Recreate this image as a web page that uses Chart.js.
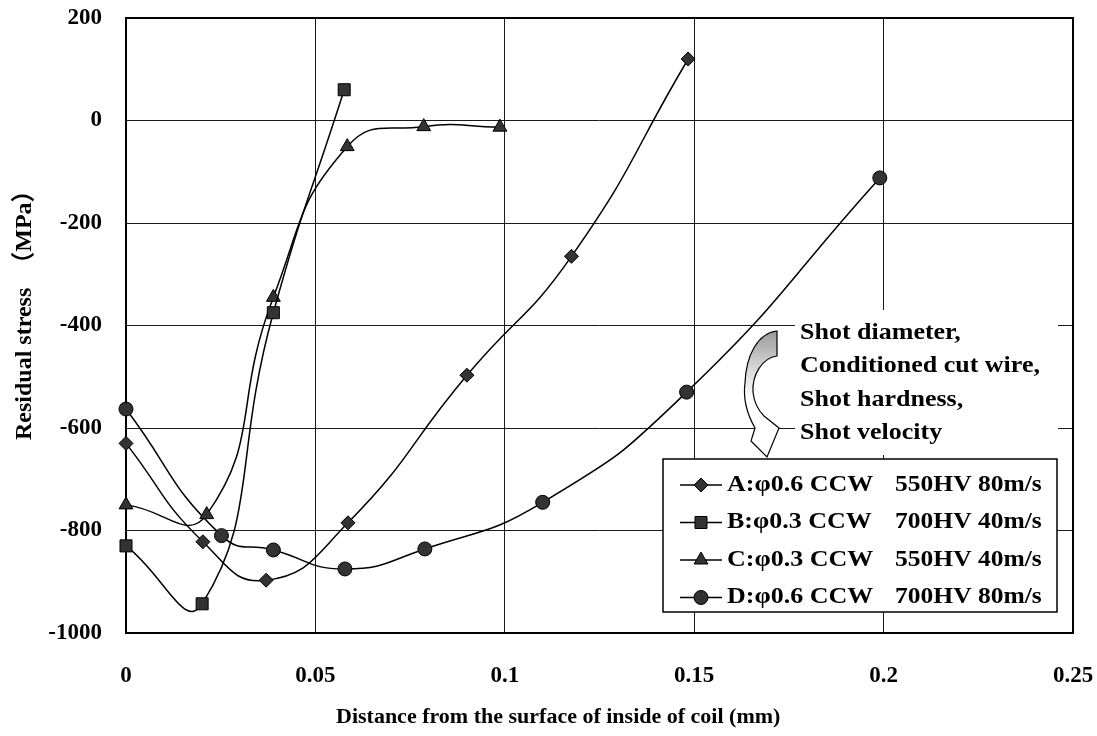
<!DOCTYPE html>
<html>
<head>
<meta charset="utf-8">
<title>Residual stress profiles</title>
<script src="https://cdn.jsdelivr.net/npm/chart.js@4.4.0/dist/chart.umd.min.js"></script>
<style>
  html, body { margin: 0; padding: 0; background: #fff; }
  #wrap { width: 1097px; height: 736px; position: relative; }
</style>
</head>
<body>
<div id="wrap"><canvas id="stressChart"></canvas></div>
<script>
// depth in mm, residual stress in MPa
const depthA = [0, 0.0203, 0.037, 0.0586, 0.09, 0.1176, 0.1484];
const stressA = [-630, -822, -897, -785, -497, -265, 120];
const depthB = [0, 0.0201, 0.0389, 0.0576];
const stressB = [-830, -943, -375, 60];
const depthC = [0, 0.0213, 0.0389, 0.0584, 0.0786, 0.0987];
const stressC = [-750, -769, -345, -51, -12, -13];
const depthD = [0, 0.0252, 0.0389, 0.0578, 0.0789, 0.11, 0.148, 0.199];
const stressD = [-563, -810, -838, -875, -836, -745, -530, -112];

const seriesNames = ['A:φ0.6 CCW', 'B:φ0.3 CCW', 'C:φ0.3 CCW', 'D:φ0.6 CCW'];
const seriesConditions = ['550HV 80m/s', '700HV 40m/s', '550HV 40m/s', '700HV 80m/s'];

const depthTicks = [0, 0.05, 0.1, 0.15, 0.2, 0.25];
const stressTicks = [-1000, -800, -600, -400, -200, 0, 200];

const noteLines = ['Shot diameter,', 'Conditioned cut wire,', 'Shot hardness,', 'Shot velocity'];
const xTitle = 'Distance from the surface of inside of coil (mm)';
const yTitle = 'Residual stress\u3000（MPa）';

const SERIF = "'Liberation Serif', 'Times New Roman', 'Noto Sans CJK JP', serif";

const markers = [
  { pointStyle: 'rectRot', radius: 7 },
  { pointStyle: 'rect', radius: 8.5 },
  { pointStyle: 'triangle', radius: 8 },
  { pointStyle: 'circle', radius: 7 }
];

function toPoints(xs, ys) {
  return xs.map((x, i) => ({ x: x, y: ys[i] }));
}

const seriesData = [
  toPoints(depthA, stressA),
  toPoints(depthB, stressB),
  toPoints(depthC, stressC),
  toPoints(depthD, stressD)
];

const datasets = seriesData.map((pts, i) => ({
  label: seriesNames[i] + ' ' + seriesConditions[i],
  data: pts,
  borderColor: '#000',
  borderWidth: 1.5,
  backgroundColor: '#333',
  pointStyle: markers[i].pointStyle,
  pointRadius: markers[i].radius,
  pointBackgroundColor: '#333',
  pointBorderColor: '#000',
  pointBorderWidth: 1,
  tension: 0.5,
  fill: false,
  clip: false
}));

// text widened sideways, the printed lettering runs broad
function wideText(ctx, text, x, y, sx, align) {
  ctx.save();
  ctx.translate(x, y);
  ctx.scale(sx, 1);
  ctx.textAlign = align || 'left';
  ctx.fillText(text, 0, 0);
  ctx.restore();
}

function drawMarker(ctx, style, radius, x, y) {
  ctx.save();
  ctx.fillStyle = '#333';
  ctx.strokeStyle = '#000';
  ctx.lineWidth = 1;
  Chart.helpers.drawPoint(ctx, { pointStyle: style, radius: radius, rotation: 0, borderWidth: 1 }, x, y);
  ctx.restore();
}

const framePlugin = {
  id: 'frame',
  beforeDatasetsDraw(chart) {
    const { ctx, chartArea: a } = chart;
    ctx.save();
    ctx.strokeStyle = '#000';
    ctx.lineWidth = 2;
    ctx.strokeRect(a.left, a.top, a.right - a.left, a.bottom - a.top);
    ctx.restore();
  }
};

const overlayPlugin = {
  id: 'overlay',
  afterDraw(chart) {
    const ctx = chart.ctx;
    ctx.save();

    // axis titles
    ctx.fillStyle = '#000';
    ctx.textBaseline = 'middle';
    ctx.font = 'bold 20px ' + SERIF;
    wideText(ctx, xTitle, 336, 718, 1.1, 'left');

    ctx.save();
    ctx.translate(25, 440);
    ctx.rotate(-Math.PI / 2);
    ctx.font = 'bold 24px ' + SERIF;
    ctx.textAlign = 'left';
    ctx.fillText(yTitle, 0, 0);
    ctx.restore();

    // note block with curved arrow
    ctx.fillStyle = '#fff';
    ctx.fillRect(795, 310, 263, 145);
    ctx.fillStyle = '#000';
    ctx.font = 'bold 23px ' + SERIF;
    noteLines.forEach((t, i) => wideText(ctx, t, 800, 333 + i * 33.3, 1.13, 'left'));

    const grad = ctx.createLinearGradient(0, 331, 0, 400);
    grad.addColorStop(0, '#9a9a9a');
    grad.addColorStop(0.55, '#d8d8d8');
    grad.addColorStop(1, '#fff');
    ctx.beginPath();
    ctx.moveTo(777, 331);
    ctx.lineTo(777, 356);
    ctx.bezierCurveTo(762, 358, 752, 375, 753, 392);
    ctx.bezierCurveTo(754, 402, 758, 410, 764, 416);
    ctx.lineTo(779, 428);
    ctx.lineTo(767, 457);
    ctx.lineTo(751, 441);
    ctx.lineTo(755, 428);
    ctx.bezierCurveTo(747, 414, 743, 398, 745, 383);
    ctx.bezierCurveTo(746, 355, 758, 333, 777, 331);
    ctx.closePath();
    ctx.fillStyle = grad;
    ctx.fill();
    ctx.strokeStyle = '#000';
    ctx.lineWidth = 1.2;
    ctx.stroke();

    // legend
    ctx.fillStyle = '#fff';
    ctx.fillRect(663, 459, 394, 153);
    ctx.strokeStyle = '#000';
    ctx.lineWidth = 1.5;
    ctx.strokeRect(663, 459, 394, 153);
    ctx.font = 'bold 23px ' + SERIF;
    seriesNames.forEach((name, i) => {
      const y = 485 + i * 37.5;
      ctx.beginPath();
      ctx.moveTo(680, y);
      ctx.lineTo(722, y);
      ctx.strokeStyle = '#000';
      ctx.lineWidth = 1.5;
      ctx.stroke();
      drawMarker(ctx, markers[i].pointStyle, markers[i].radius, 701, y);
      ctx.fillStyle = '#000';
      wideText(ctx, name, 727, y, 1.13, 'left');
      wideText(ctx, seriesConditions[i], 895, y, 1.11, 'left');
    });

    ctx.restore();
  }
};

const tickFont = { family: SERIF, size: 23, weight: 'bold' };

new Chart(document.getElementById('stressChart'), {
  type: 'line',
  data: { datasets: datasets },
  options: {
    responsive: true,
    maintainAspectRatio: false,
    animation: false,
    layout: { padding: { top: 18, right: 24, bottom: 0, left: 0 } },
    plugins: { legend: { display: false }, tooltip: { enabled: false } },
    scales: {
      x: {
        type: 'linear',
        min: 0,
        max: 0.25,
        afterBuildTicks: scale => { scale.ticks = depthTicks.map(v => ({ value: v })); },
        afterFit: scale => { scale.height = 103; scale.paddingLeft = 0; scale.paddingRight = 0; },
        ticks: {
          font: tickFont,
          color: '#000',
          padding: 29,
          maxRotation: 0,
          callback: v => String(Math.round(v * 100) / 100)
        },
        grid: { color: '#1a1a1a', lineWidth: 1, drawTicks: false },
        border: { display: false }
      },
      y: {
        type: 'linear',
        min: -1000,
        max: 200,
        afterBuildTicks: scale => { scale.ticks = stressTicks.map(v => ({ value: v })); },
        afterFit: scale => { scale.width = 126; scale.paddingTop = 0; scale.paddingBottom = 0; },
        ticks: {
          font: tickFont,
          color: '#000',
          padding: 24,
          callback: v => String(v)
        },
        grid: { color: '#1a1a1a', lineWidth: 1, drawTicks: false },
        border: { display: false }
      }
    }
  },
  plugins: [framePlugin, overlayPlugin]
});
</script>
</body>
</html>
